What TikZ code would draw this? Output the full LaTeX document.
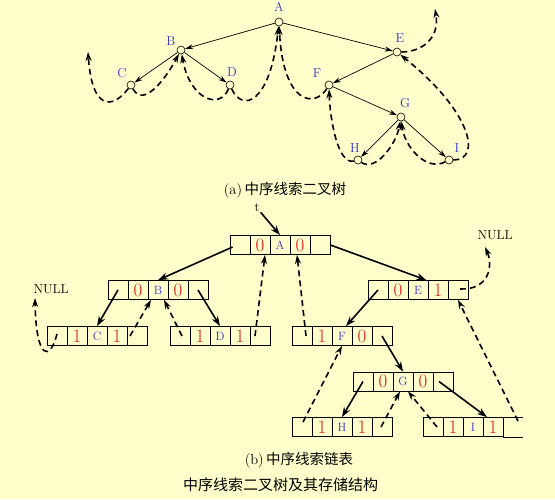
\documentclass[tikz,border=0pt]{standalone}
\usepackage{fontspec}
\newfontfamily\cjk{Noto Sans CJK SC}
\usetikzlibrary{arrows.meta,calc}
\definecolor{bg}{HTML}{FFFFCC}
\definecolor{lbl}{HTML}{3333CC}
\definecolor{dig}{HTML}{E01818}
\tikzset{
  tn/.style={circle,draw,fill=bg,inner sep=0pt,minimum size=8pt,line width=0.6pt},
  tlab/.style={text=lbl,font=\fontsize{13}{13}\selectfont,inner sep=0pt},
  tedge/.style={line width=0.7pt,-{Stealth[length=8pt,width=5pt]}},
  thr/.style={line width=1.6pt,dash pattern=on 6pt off 4pt,-{Stealth[length=9pt,width=6pt]}},
  cell/.style={draw,line width=0.8pt,minimum width=20pt,minimum height=19pt,inner sep=0pt,anchor=center},
  cellopen/.style={cell,draw=none},
  ptr/.style={line width=1.6pt,-{Stealth[length=10pt,width=7pt]}},
  dg/.style={text=dig,font=\fontsize{19}{19}\selectfont},
  lettertext/.style={text=lbl,font=\fontsize{12}{12}\selectfont},
  plaintext/.style={font=\fontsize{13}{13}\selectfont,inner sep=1pt},
  captext/.style={font=\fontsize{14.5}{15}\selectfont,inner sep=0pt},
}
% record: [style of last cell]{name}{left x}{centre y}{left tag}{letter}{right tag}
\newcommand\rec[7][cell]{%
  \node[cell] (#2-1) at (#3+10,#4) {};
  \node[cell,dg] (#2-2) at (#3+30,#4) {#5};
  \node[cell,lettertext] (#2-3) at (#3+50,#4) {#6};
  \node[cell,dg] (#2-4) at (#3+70,#4) {#7};
  \node[#1] (#2-5) at (#3+90,#4) {};
}
\begin{document}
\begin{tikzpicture}[x=1pt,y=-1pt]
\fill[bg] (0,0) rectangle (555,499);
\useasboundingbox (0,0) rectangle (555,499);

% ---------- (a) threaded binary tree ----------
\node[tn] (A) at (279,22) {};
\node[tn] (B) at (181,50) {};
\node[tn] (C) at (131,85) {};
\node[tn] (D) at (230,85) {};
\node[tn] (E) at (397,52) {};
\node[tn] (F) at (329,85) {};
\node[tn] (G) at (401,117) {};
\node[tn] (H) at (358,160) {};
\node[tn] (I) at (449,160) {};
\node[tlab] (lA) at (279,7) {A};
\node[tlab] (lB) at (171,41) {B};
\node[tlab] (lC) at (122,73) {C};
\node[tlab] (lD) at (232,72) {D};
\node[tlab] (lE) at (400,38) {E};
\node[tlab] (lF) at (317,73) {F};
\node[tlab] (lG) at (405,103) {G};
\node[tlab] (lH) at (355,148) {H};
\node[tlab] (lI) at (457,148) {I};

\draw[tedge] (A) -- (B);
\draw[tedge] (A) -- (E);
\draw[tedge] (B) -- (C);
\draw[tedge] (B) -- (D);
\draw[tedge] (E) -- (F);
\draw[tedge] (F) -- (G);
\draw[tedge] (G) -- (H);
\draw[tedge] (G) -- (I);

\coordinate (nC) at (88,52);
\coordinate (nE) at (435,9);
\draw[thr] (C) .. controls (112,110) and (92,110) .. (nC);
\draw[thr] (C) .. controls (143,108) and (165,80) .. (B);
\draw[thr] (D) .. controls (220,110) and (190,100) .. (B);
\draw[thr] (D) .. controls (242,112) and (270,105) .. (A);
\draw[thr] (F) .. controls (315,108) and (283,105) .. (A);
\draw[thr] (E) .. controls (422,52) and (440,38) .. (nE);
\draw[thr] (H) .. controls (338,165) and (330,120) .. (F);
\draw[thr] (H) .. controls (375,172) and (396,145) .. (G);
\draw[thr] (I) .. controls (425,172) and (404,145) .. (G);
\draw[thr] (I) .. controls (482,160) and (472,112) .. (E);

\node[captext] (capA) at (285,190) {(a)\,{\cjk 中序线索二叉树}};

% ---------- (b) threaded linked list ----------
\rec{rA}{230}{245}{0}{A}{0}
\rec{rB}{108}{290}{0}{B}{0}
\rec{rC}{47}{336}{1}{C}{1}
\rec{rD}{170}{336}{1}{D}{1}
\rec{rE}{368}{290}{0}{E}{1}
\rec{rF}{292}{336}{1}{F}{0}
\rec{rG}{353}{381.5}{0}{G}{0}
\rec{rH}{292}{427}{1}{H}{1}
\rec[cellopen]{rI}{423}{427}{1}{I}{1}
\draw[line width=0.8pt] (rI-5.north west) -- (rI-5.north east);
\draw[line width=0.8pt] (rI-5.south west) -- (rI-5.south east);

\node[plaintext] (t) at (257,208) {t};
\node[plaintext] (nullL) at (51,289) {NULL};
\node[plaintext] (nullR) at (495,235) {NULL};
\coordinate (nLtip) at (35,298);
\coordinate (nRtip) at (485,247);

\draw[ptr] (t) -- (rA-3.north);
\draw[ptr] ($(rA-1.west)+(3,2)$) -- (rB-3.north);
\draw[ptr] (rA-5.east) -- ($(rE-3.north east)+(-2,0)$);
\draw[ptr] (rB-1.center) -- (rC-3.north);
\draw[ptr] (rB-5.center) -- (rD-3.north);
\draw[ptr] (rE-1.center) -- ($(rF-3.north)+(4,0)$);
\draw[ptr] (rF-5.center) -- (rG-3.north);
\draw[ptr] (rG-1.center) -- (rH-3.north);
\draw[ptr] ($(rG-5.center)+(-4,0)$) -- ($(rI-4.north)+(-6,0)$);

\draw[thr] ($(rC-1.center)+(0,-2)$) .. controls (50,362) and (36,360) .. (nLtip);
\draw[thr] ($(rC-5.center)+(-7,0)$) -- ($(rB-3.south)+(-7,0)$);
\draw[thr] ($(rD-1.center)+(2,0)$) -- ($(rB-3.south)+(6,0)$);
\draw[thr] ($(rD-5.center)+(-5,0)$) -- ($(rA-2.south)+(5,0)$);
\draw[thr] ($(rF-1.center)+(4,0)$) -- ($(rA-4.south)+(-3,0)$);
\draw[thr] ($(rE-5.center)+(2,-1)$) .. controls (490,290) and (493,265) .. (nRtip);
\draw[thr] ($(rH-1.center)+(1,-5)$) -- (rF-3.south);
\draw[thr] ($(rH-5.center)+(-1,0)$) -- ($(rG-3.south)+(-3,0)$);
\draw[thr] ($(rI-1.center)+(4,0)$) -- ($(rG-3.south)+(5,0)$);
\draw[thr] ($(rI-5.center)+(5,-6)$) -- (rE-5.south);

\node[captext] (capB) at (299,460) {(b)\,{\cjk 中序线索链表}};
\node[captext,font=\fontsize{15}{15}\selectfont\cjk] (capT) at (280.5,485) {中序线索二叉树及其存储结构};
\end{tikzpicture}
\end{document}
